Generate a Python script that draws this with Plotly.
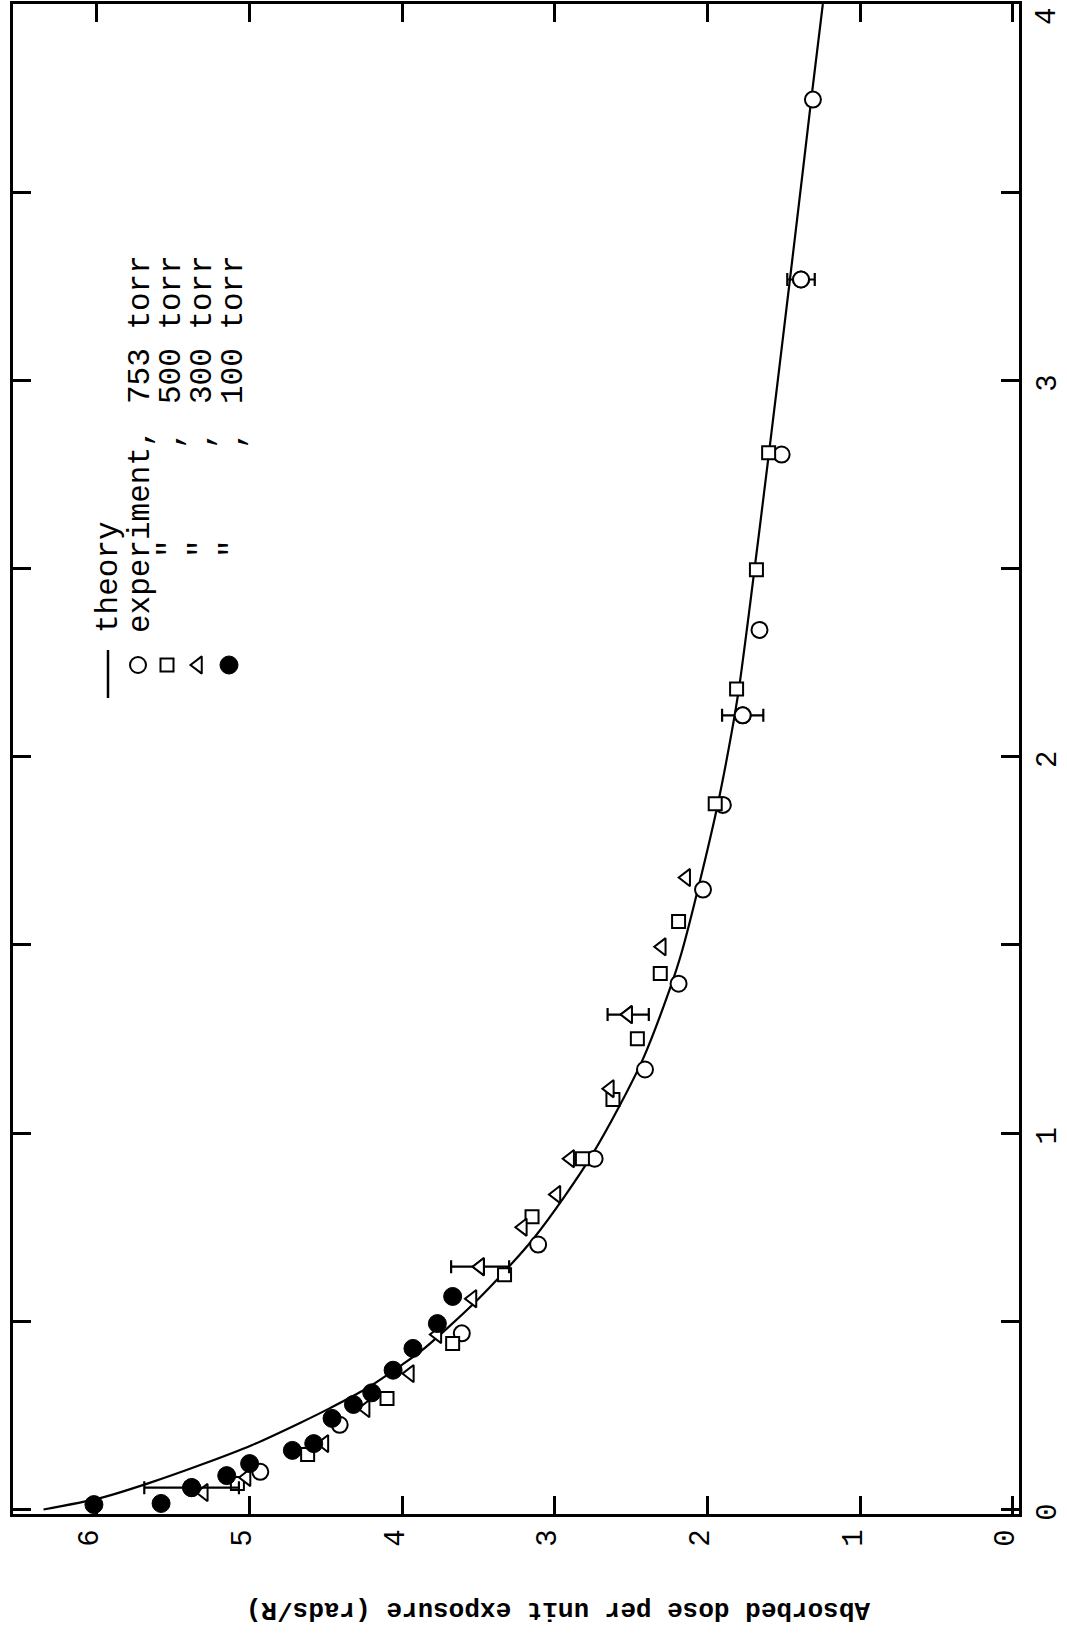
import plotly.graph_objects as go

# ---------------- data ----------------
# X: quantity on the vertical (right-hand) axis, 0..4
# dose: absorbed dose per unit exposure (rads/R), horizontal axis (reversed)
theory_x = [0.00, 0.03, 0.07, 0.12, 0.17, 0.23, 0.27, 0.32, 0.385, 0.42, 0.48, 0.56,
            0.65, 0.72, 0.83, 0.94, 1.07, 1.20, 1.38, 1.48, 1.67, 1.88, 2.07, 2.18,
            2.41, 2.80, 3.00, 3.27, 3.56, 3.75, 4.00]
theory_dose = [6.35, 5.98, 5.66, 5.31, 4.99, 4.67, 4.47, 4.24, 4.00, 3.88, 3.71, 3.50,
               3.29, 3.14, 2.94, 2.76, 2.58, 2.42, 2.25, 2.17, 2.05, 1.93, 1.84, 1.795,
               1.72, 1.60, 1.54, 1.46, 1.375, 1.32, 1.245]

t753_x = [0.10, 0.225, 0.468, 0.704, 0.932, 1.169, 1.397, 1.647, 1.872, 2.11, 2.337, 2.803, 3.268, 3.746]
t753_dose = [4.93, 4.41, 3.61, 3.11, 2.74, 2.41, 2.19, 2.03, 1.90, 1.77, 1.66, 1.515, 1.388, 1.31]
t753_err = [0, 0, 0, 0, 0, 0, 0, 0, 0, 0.135, 0, 0, 0.09, 0]

t500_x = [0.069, 0.146, 0.295, 0.441, 0.624, 0.778, 0.932, 1.089, 1.251, 1.424, 1.562, 1.875, 2.18, 2.497, 2.808]
t500_dose = [5.08, 4.62, 4.10, 3.67, 3.33, 3.15, 2.82, 2.62, 2.46, 2.31, 2.19, 1.95, 1.81, 1.68, 1.60]

t300_x = [0.045, 0.085, 0.175, 0.268, 0.361, 0.465, 0.56, 0.645, 0.75, 0.837, 0.932, 1.118, 1.315, 1.495, 1.679]
t300_dose = [5.30, 5.02, 4.51, 4.24, 3.95, 3.77, 3.54, 3.49, 3.21, 2.99, 2.90, 2.64, 2.52, 2.30, 2.14]
t300_err = [0, 0, 0, 0, 0, 0, 0, 0.19, 0, 0, 0, 0, 0.135, 0, 0]

t100_x = [0.013, 0.016, 0.058, 0.09, 0.122, 0.157, 0.175, 0.242, 0.279, 0.31, 0.37, 0.428, 0.494, 0.566]
t100_dose = [6.02, 5.58, 5.38, 5.15, 5.00, 4.72, 4.58, 4.46, 4.32, 4.20, 4.06, 3.93, 3.77, 3.67]
t100_err = [0, 0, 0.31, 0, 0, 0, 0, 0, 0, 0, 0, 0, 0, 0]

dose_ticks = [0, 1, 2, 3, 4, 5, 6]
x_tickvals = [0, 0.5, 1, 1.5, 2, 2.5, 3, 3.5, 4]
x_ticktext = ["0", "", "1", "", "2", "", "3", "", ""]
x_top_label = "4"   # drawn separately so it is not clipped at the page top

legend_rows = [
    ("theory", None, None),
    ("experiment,", None, "753 torr"),
    (None, '"', "500 torr"),
    (None, '"', "300 torr"),
    (None, '"', "100 torr"),
]
axis_title = "Absorbed dose per unit exposure (rads/R)"

# ---------------- styling ----------------
FONT = "Liberation Mono"
BLACK = "black"
W, H = 1067, 1635
L, R, T, B = 13, 1019, 4, 1514   # plot-area pixel box


def px(xp, yp):
    """pixel position -> paper coordinates"""
    return (xp - L) / (R - L), (B - yp) / (B - T)


styles = {
    "753": dict(symbol="circle", size=16, color="white", line=dict(color=BLACK, width=2)),
    "500": dict(symbol="square", size=13, color="white", line=dict(color=BLACK, width=2)),
    "300": dict(symbol="triangle-left", size=15, color="white", line=dict(color=BLACK, width=2)),
    "100": dict(symbol="circle", size=18, color=BLACK, line=dict(color=BLACK, width=1)),
}

fig = go.Figure()

fig.add_trace(go.Scatter(x=theory_dose, y=theory_x, mode="lines",
                         line=dict(color=BLACK, width=2.2, shape="spline", smoothing=0.8),
                         showlegend=False, hoverinfo="skip", cliponaxis=True))


def add_series(xs, ds, key, errs=None):
    if errs is not None:
        ex = [d for d, e in zip(ds, errs) if e > 0]
        ey = [x for x, e in zip(xs, errs) if e > 0]
        ee = [e for e in errs if e > 0]
        fig.add_trace(go.Scatter(x=ex, y=ey, mode="markers", marker=styles[key],
                                 error_x=dict(type="data", array=ee, visible=True,
                                              color=BLACK, thickness=2.2, width=6.5),
                                 showlegend=False, hoverinfo="skip"))
    fig.add_trace(go.Scatter(x=ds, y=xs, mode="markers", marker=styles[key],
                             showlegend=False, hoverinfo="skip"))


add_series(t753_x, t753_dose, "753", t753_err)
add_series(t500_x, t500_dose, "500")
add_series(t300_x, t300_dose, "300", t300_err)
add_series(t100_x, t100_dose, "100", t100_err)

# ---------------- legend (rotated) ----------------
col_x = [108, 140, 171, 202, 233]
sym_x = [108, 138, 167, 198, 229]
sym_y = 665
for key, sx in zip(["753", "500", "300", "100"], sym_x[1:]):
    fig.add_trace(go.Scatter(x=[sx], y=[sym_y], xaxis="x2", yaxis="y2", mode="markers",
                             marker=styles[key], showlegend=False, hoverinfo="skip"))
fig.add_shape(type="line", xref="x2", yref="y2", x0=sym_x[0], x1=sym_x[0], y0=650, y1=698,
              line=dict(color=BLACK, width=2.5))

leg_font = dict(family=FONT, size=31, color=BLACK)
annotations = []


def add_text(xp, yp, text, **kw):
    xx, yy = px(xp, yp)
    d = dict(x=xx, y=yy, xref="paper", yref="paper", text=text, showarrow=False,
             xanchor="center", yanchor="middle")
    d.update(kw)
    annotations.append(d)


for (a, b, c), cx in zip(legend_rows, col_x):
    if a == "theory":
        add_text(cx, 577, a, textangle=-90, font=leg_font)
    elif a:
        add_text(cx, 531, a, textangle=-90, font=leg_font)
    if b:
        add_text(cx, 549, b, textangle=-90, font=leg_font)
        add_text(cx, 440, ",", textangle=-90, font=leg_font)
    if c:
        add_text(cx, 330, c.replace(" ", "\u00a0"), textangle=-90, font=leg_font)

add_text(558, 1610, "<b>" + axis_title + "</b>", textangle=180,
         font=dict(family=FONT, size=26, color=BLACK))

tickfont = dict(family=FONT, size=29, color=BLACK)
add_text(1047, 17, x_top_label, textangle=-90, font=tickfont)

fig.update_layout(
    width=W, height=H,
    margin=dict(l=L, r=W - R, t=T, b=H - B, autoexpand=False),
    paper_bgcolor="white", plot_bgcolor="white",
    showlegend=False,
    xaxis=dict(range=[6.55, -0.04], tickvals=dose_ticks, ticks="inside", ticklen=18,
               tickwidth=2.5, tickcolor=BLACK, showline=True, linewidth=2.5, linecolor=BLACK,
               mirror="ticks", showgrid=False, zeroline=False, tickangle=-90,
               tickfont=tickfont, ticklabelstandoff=1, ticklabelshift=8,
               automargin=False, ticklabeloverflow="allow"),
    yaxis=dict(range=[-0.012, 4.0], side="right", tickvals=x_tickvals, ticktext=x_ticktext,
               ticks="inside", ticklen=18, tickwidth=2.5, tickcolor=BLACK, showline=True,
               linewidth=2.5, linecolor=BLACK, mirror="ticks", showgrid=False, zeroline=False,
               tickangle=-90, tickfont=tickfont, ticklabelstandoff=-1, ticklabelshift=7,
               automargin=False, ticklabeloverflow="allow"),
    xaxis2=dict(overlaying="x", range=[L, R], visible=False, automargin=False),
    yaxis2=dict(overlaying="y", range=[B, T], visible=False, automargin=False),
    annotations=annotations,
)

fig.write_html("out.html", config={"displayModeBar": False},
               post_script="document.body.style.margin='0px';document.body.style.overflow='hidden';")
